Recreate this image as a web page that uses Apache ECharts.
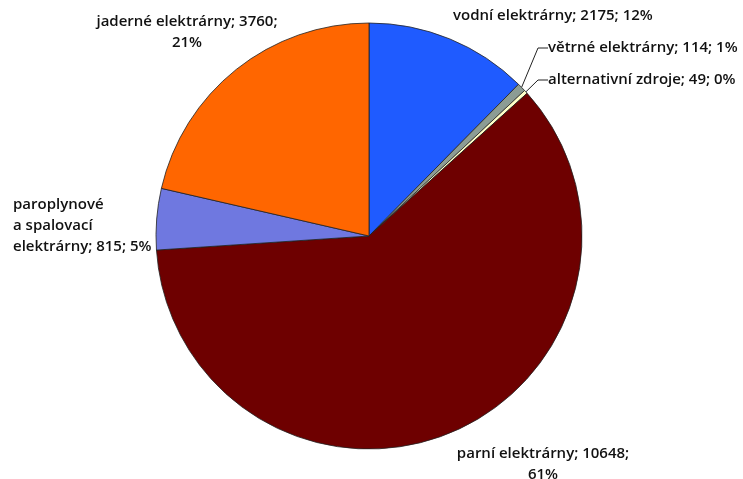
<!DOCTYPE html>
<html>
<head>
<meta charset="utf-8">
<script src="https://cdn.jsdelivr.net/npm/echarts@6/dist/echarts.min.js"></script>
<style>
  html, body { margin: 0; padding: 0; background: #fff; }
  #chart { width: 743px; height: 479px; }
</style>
</head>
<body>
<div id="chart"></div>
<script>
// Electricity generation by plant type (GWh) and share of the total
const names = [
  'vodní elektrárny',
  'větrné elektrárny',
  'alternativní zdroje',
  'parní elektrárny',
  'paroplynové a spalovací elektrárny',
  'jaderné elektrárny'
];
const values = [2175, 114, 49, 10648, 815, 3760];
const colors = ['#1f5bff', '#8c9c94', '#ffffc8', '#6e0000', '#6f78e0', '#ff6600'];

// Label text templates ({b} name, {c} value, {d} whole percent)
const labelTemplates = [
  '{b}; {c}; {d}%',
  '{b}; {c}; {d}%',
  '{b}; {c}; {d}%',
  '{b}; {c};\n{d}%',
  'paroplynové\na spalovací\nelektrárny; {c}; {d}%',
  '{b}; {c};\n{d}%'
];

// Label placement around the pie
const labelPlaces = [
  { x: 453, y: 16, align: 'left' },
  { x: 548, y: 48, align: 'left' },
  { x: 548, y: 80, align: 'left' },
  { x: 543, y: 464, align: 'center' },
  { x: 13, y: 226, align: 'left' },
  { x: 187, y: 32, align: 'center' }
];

const chart = echarts.init(document.getElementById('chart'), null, { renderer: 'canvas' });

chart.setOption({
  animation: false,
  series: [{
    type: 'pie',
    center: [369, 236],
    radius: 213,
    startAngle: 90,
    clockwise: true,
    avoidLabelOverlap: false,
    itemStyle: { borderColor: '#222', borderWidth: 0.8 },
    label: {
      show: true,
      position: 'outside',
      fontFamily: 'Open Sans',
      fontWeight: 600,
      fontSize: 15,
      lineHeight: 21,
      color: '#111',
      formatter: function (p) {
        return labelTemplates[p.dataIndex]
          .replace('{b}', p.name)
          .replace('{c}', p.value)
          .replace('{d}', Math.round(p.percent));
      }
    },
    labelLine: { show: false },
    labelLayout: function (p) {
      const pl = labelPlaces[p.dataIndex];
      return { x: pl.x, y: pl.y, align: pl.align, verticalAlign: 'middle' };
    },
    data: names.map(function (n, i) {
      const item = {
        name: n,
        value: values[i],
        itemStyle: { color: colors[i] }
      };
      if (i === 1 || i === 2) {
        item.labelLine = { show: true, length: 10, length2: 10, lineStyle: { color: '#222', width: 1 } };
      }
      return item;
    })
  }]
});
</script>
</body>
</html>
